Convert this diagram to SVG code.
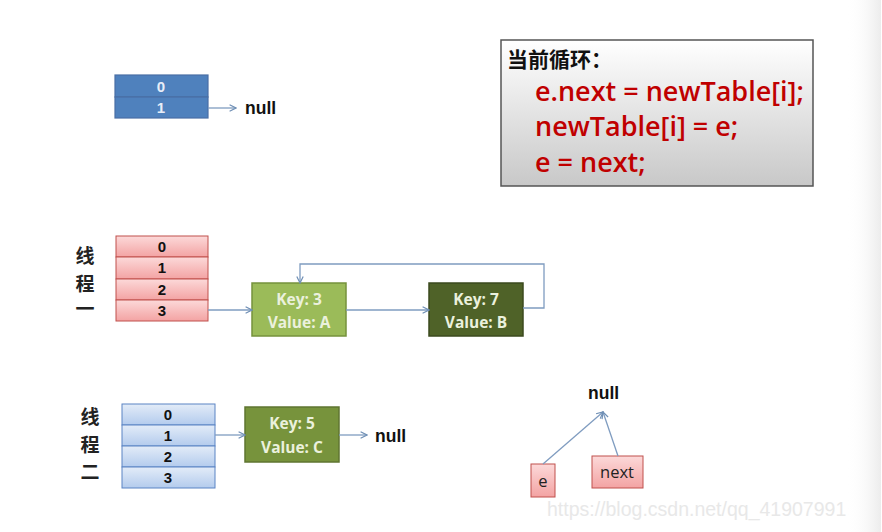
<svg xmlns="http://www.w3.org/2000/svg" width="882" height="532" viewBox="0 0 882 532">
<defs>
<linearGradient id="boxg" x1="0" y1="0" x2="0" y2="1"><stop offset="0" stop-color="#ffffff"/><stop offset="1" stop-color="#c8c8c8"/></linearGradient>
<linearGradient id="pinkg" x1="0" y1="0" x2="0" y2="1"><stop offset="0" stop-color="#fcd9d9"/><stop offset="1" stop-color="#f3a3a3"/></linearGradient>
<linearGradient id="lblue" x1="0" y1="0" x2="0" y2="1"><stop offset="0" stop-color="#e3ecf8"/><stop offset="1" stop-color="#b3cbed"/></linearGradient>
<linearGradient id="edge" x1="0" y1="0" x2="1" y2="0"><stop offset="0" stop-color="#ffffff" stop-opacity="0"/><stop offset="1" stop-color="#ececec"/></linearGradient>
<marker id="arr" viewBox="0 0 10 10" refX="9" refY="5" markerWidth="8" markerHeight="8" markerUnits="userSpaceOnUse" orient="auto"><path d="M1,1 L9,5 L1,9" fill="none" stroke="#6f8fb5" stroke-width="1.5"/></marker>
</defs>
<style>
.cell{stroke:#4a6fa5;stroke-width:1.2}
.pc{fill:url(#pinkg);stroke:#c0504d;stroke-width:1}
.lb{fill:url(#lblue);stroke:#5b84c4;stroke-width:1}
.num{font-family:"Liberation Sans",Arial,sans-serif;font-weight:bold;font-size:15px;text-anchor:middle}
.kv{font-family:"Open Sans","Liberation Sans",sans-serif;font-weight:bold;font-size:15.5px;fill:#ebf1dd;text-anchor:middle}
.null{font-family:"Liberation Sans",Arial,sans-serif;font-weight:bold;font-size:17.5px;fill:#111}
.cn{font-family:"Noto Sans CJK SC",sans-serif;font-weight:bold;font-size:19px;fill:#222;text-anchor:middle}
.code{font-family:"Open Sans","Liberation Sans",sans-serif;font-size:27px;font-weight:600;fill:#c00000}
.conn{fill:none;stroke:#7f9cc0;stroke-width:1.3}
.var{font-family:"Open Sans","Liberation Sans",sans-serif;font-size:16.5px;fill:#222;text-anchor:middle}
</style>
<rect width="882" height="532" fill="#ffffff"/>
<rect x="846" y="0" width="35" height="532" fill="url(#edge)"/>

<g id="table-top">
<rect x="115" y="75" width="93" height="22" class="cell" fill="#4f81bd"/>
<rect x="115" y="97" width="93" height="21" class="cell" fill="#4f81bd"/>
<text x="161" y="92" class="num" fill="#e8eef8">0</text>
<text x="161" y="113" class="num" fill="#e8eef8">1</text>
</g>
<g id="null-top"><text x="245" y="114" class="null">null</text></g>

<g id="code-box">
<rect x="501" y="40" width="312" height="146" fill="url(#boxg)" stroke="#555" stroke-width="1.5"/>
<text x="507" y="67" font-family="Noto Sans CJK SC,sans-serif" font-weight="bold" font-size="21" fill="#111">当前循环：</text>
<text x="535" y="101" class="code">e.next = newTable[i];</text>
<text x="535" y="136" class="code">newTable[i] = e;</text>
<text x="535" y="172" class="code">e = next;</text>
</g>

<g id="label-thread1">
<text x="85" y="263" class="cn">线</text>
<text x="85" y="291" class="cn">程</text>
<text x="85" y="316" class="cn">一</text>
</g>
<g id="table-thread1">
<rect x="116" y="236" width="92" height="21" class="pc"/>
<rect x="116" y="257" width="92" height="22" class="pc"/>
<rect x="116" y="279" width="92" height="21" class="pc"/>
<rect x="116" y="300" width="92" height="21" class="pc"/>
<text x="162" y="252" class="num" fill="#111">0</text>
<text x="162" y="273" class="num" fill="#111">1</text>
<text x="162" y="295" class="num" fill="#111">2</text>
<text x="162" y="316" class="num" fill="#111">3</text>
</g>
<g id="node-key3">
<rect x="252" y="283" width="94" height="53" fill="#9bbb59" stroke="#76923c" stroke-width="1.5"/>
<text x="299" y="305" class="kv">Key: 3</text>
<text x="299" y="328" class="kv">Value: A</text>
</g>
<g id="node-key7">
<rect x="429" y="283" width="94" height="53" fill="#4f6228" stroke="#3b4a1e" stroke-width="1.5"/>
<text x="476" y="305" class="kv">Key: 7</text>
<text x="476" y="328" class="kv">Value: B</text>
</g>

<g id="label-thread2">
<text x="90" y="424" class="cn">线</text>
<text x="90" y="452" class="cn">程</text>
<text x="90" y="479" class="cn">二</text>
</g>
<g id="table-thread2">
<rect x="122" y="404" width="93" height="21" class="lb"/>
<rect x="122" y="425" width="93" height="21" class="lb"/>
<rect x="122" y="446" width="93" height="21" class="lb"/>
<rect x="122" y="467" width="93" height="21" class="lb"/>
<text x="168" y="420" class="num" fill="#111">0</text>
<text x="168" y="441" class="num" fill="#111">1</text>
<text x="168" y="462" class="num" fill="#111">2</text>
<text x="168" y="483" class="num" fill="#111">3</text>
</g>
<g id="node-key5">
<rect x="245" y="407" width="94" height="55" fill="#77933c" stroke="#5f7530" stroke-width="1.5"/>
<text x="292" y="429" class="kv">Key: 5</text>
<text x="292" y="453" class="kv">Value: C</text>
</g>
<g id="null-thread2"><text x="375" y="442" class="null">null</text></g>

<g id="null-pointer"><text x="588" y="399" class="null">null</text></g>
<g id="var-e">
<rect x="531" y="464" width="24" height="33" fill="url(#pinkg)" stroke="#c0504d"/>
<text x="543" y="487" class="var">e</text>
</g>
<g id="var-next">
<rect x="592" y="456" width="51" height="32" fill="url(#pinkg)" stroke="#c0504d"/>
<text x="617" y="478" class="var">next</text>
</g>

<g id="connectors">
<line x1="208" y1="108" x2="236" y2="108" class="conn" marker-end="url(#arr)"/>
<line x1="208" y1="310" x2="252" y2="310" class="conn" marker-end="url(#arr)"/>
<line x1="346" y1="310" x2="429" y2="310" class="conn" marker-end="url(#arr)"/>
<polyline points="523,308 544,308 544,264 300,264 300,283" class="conn" marker-end="url(#arr)"/>
<line x1="215" y1="435" x2="245" y2="435" class="conn" marker-end="url(#arr)"/>
<line x1="339" y1="435" x2="367" y2="435" class="conn" marker-end="url(#arr)"/>
<line x1="543" y1="464" x2="603" y2="412" class="conn" marker-end="url(#arr)"/>
<line x1="618" y1="456" x2="603" y2="412" class="conn" marker-end="url(#arr)"/>
</g>

<text x="547" y="516" font-family="Liberation Sans,Arial,sans-serif" font-size="19.5" fill="#e8e8e8">https://blog.csdn.net/qq_41907991</text>
</svg>
